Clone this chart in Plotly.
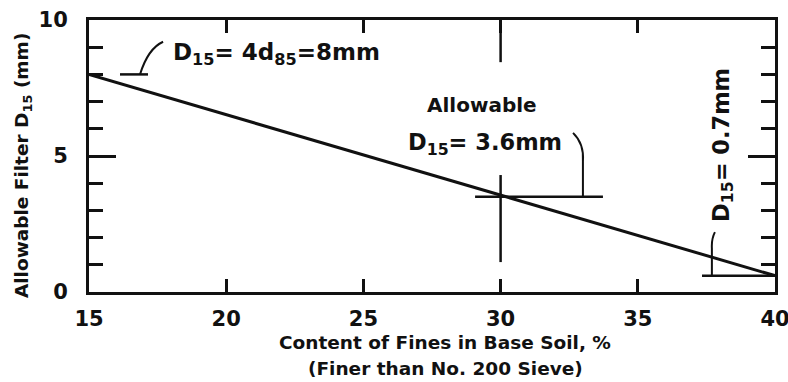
import plotly.graph_objects as go

# ---- data ----
fines_pct = [15, 40]            # Content of fines in base soil, %
allowable_d15 = [8.0, 0.6]      # Allowable filter D15 (mm)

x_ticks = [15, 20, 25, 30, 35, 40]
y_ticks = [0, 5, 10]

# marked points on the design line
mark_fines = [15, 30, 40]
mark_d15 = [8.0, 3.5, 0.6]

FONT = "DejaVu Sans"
INK = "#111111"

fig = go.Figure()
fig.add_trace(go.Scatter(
    x=fines_pct, y=allowable_d15, mode="lines",
    line=dict(color=INK, width=3), showlegend=False, hoverinfo="skip"))

shapes = []
def seg(x0, y0, x1, y1, w=2.5):
    shapes.append(dict(type="line", xref="x", yref="y", x0=x0, y0=y0, x1=x1, y1=y1,
                       line=dict(color=INK, width=w)))

def path(p, w=2):
    shapes.append(dict(type="path", xref="x", yref="y", path=p,
                       line=dict(color=INK, width=w)))

# 8 mm marker + leader
seg(16.13, mark_d15[0], 17.15, mark_d15[0])
path("M 16.86,8.0 Q 17.15,8.95 17.7,9.2")
# 3.6 mm crosshair + leader
seg(29.07, mark_d15[1], 33.73, mark_d15[1])
seg(mark_fines[1], 1.1, mark_fines[1], 4.3)
seg(mark_fines[1], 8.45, mark_fines[1], 10)
path("M 32.64,5.85 Q 33.05,5.45 33.0,4.8 L 33.0,3.5")
# 0.7 mm marker + leader
seg(37.34, mark_d15[2], 40, mark_d15[2])
path("M 37.81,2.2 Q 37.68,1.95 37.7,1.6 L 37.7,0.6")

def bold(size):
    return dict(family=FONT, size=size, color=INK, weight="bold")

annotations = [
    dict(x=18.0, y=8.75, xref="x", yref="y", xanchor="left", yanchor="middle",
         text="D<sub>15</sub>= 4d<sub>85</sub>=8mm", showarrow=False, font=bold(23)),
    dict(x=29.33, y=6.875, xref="x", yref="y", xanchor="center", yanchor="middle",
         text="Allowable", showarrow=False, font=bold(20)),
    dict(x=29.44, y=5.45, xref="x", yref="y", xanchor="center", yanchor="middle",
         text="D<sub>15</sub>= 3.6mm", showarrow=False, font=bold(22.5)),
    dict(x=38.1, y=5.4, xref="x", yref="y", xanchor="center", yanchor="middle",
         text="D<sub>15</sub>= 0.7mm", textangle=-90, showarrow=False, font=bold(22.5)),
    dict(x=0, y=0.463, xref="paper", yref="paper", xanchor="center", yanchor="middle",
         xshift=-66, text="Allowable Filter D<sub>15</sub> (mm)", textangle=-90,
         showarrow=False, font=bold(18.5)),
    dict(x=0.519, y=0, xref="paper", yref="paper", xanchor="center", yanchor="middle",
         yshift=-50, text="Content of Fines in Base Soil, %", showarrow=False,
         font=bold(18.5)),
    dict(x=0.519, y=0, xref="paper", yref="paper", xanchor="center", yanchor="middle",
         yshift=-76, text="(Finer than No. 200 Sieve)", showarrow=False,
         font=bold(18.5)),
]

fig.update_layout(
    width=788, height=382, autosize=False,
    margin=dict(l=89, r=13, t=20, b=90, autoexpand=False),
    paper_bgcolor="white", plot_bgcolor="white",
    shapes=shapes, annotations=annotations, showlegend=False,
    xaxis=dict(range=[15, 40], tickvals=x_ticks, ticktext=[str(v) for v in x_ticks],
               automargin=False, ticklabeloverflow="allow",
               showgrid=False, zeroline=False, showline=True, linecolor=INK, linewidth=3,
               mirror="ticks", ticks="inside", ticklen=13, tickwidth=2.5, tickcolor=INK,
               ticklabelstandoff=6, tickfont=bold(21)),
    yaxis=dict(range=[0, 10], tickvals=y_ticks, ticktext=[str(v) for v in y_ticks],
               automargin=False, ticklabeloverflow="allow",
               showgrid=False, zeroline=False, showline=True, linecolor=INK, linewidth=3,
               mirror="ticks", ticks="inside", ticklen=27, tickwidth=2.5, tickcolor=INK,
               minor=dict(dtick=1, ticks="inside", ticklen=14, tickwidth=2.5, tickcolor=INK,
                          showgrid=False),
               ticklabelstandoff=14, tickfont=bold(21)),
)

fig.write_html("out.html")
